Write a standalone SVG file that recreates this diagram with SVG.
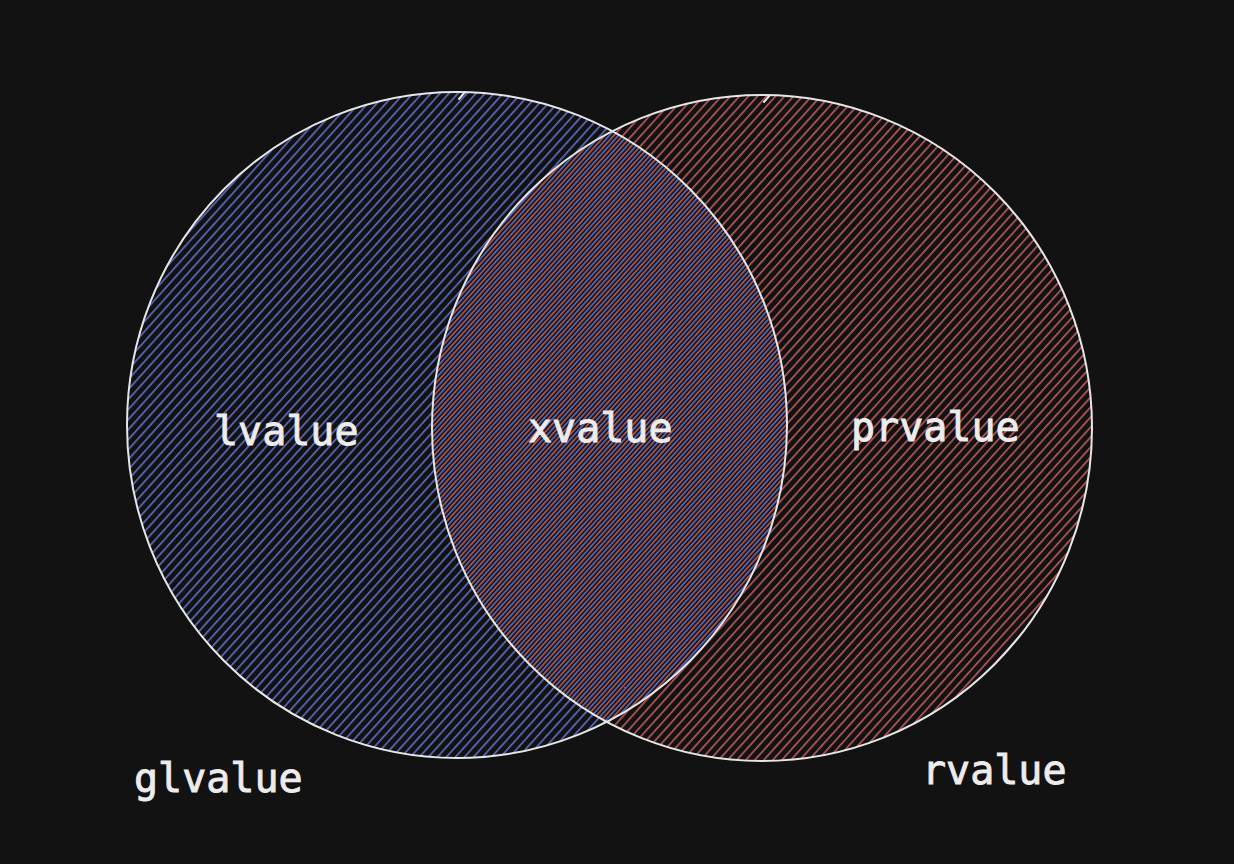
<svg xmlns="http://www.w3.org/2000/svg" width="1234" height="864" viewBox="0 0 1234 864">
<style>
.bg{fill:#121212}
.outline{fill:none;stroke:#e6e6e6;stroke-width:2;stroke-linecap:round}
.lbl{font-family:"DejaVu Sans Mono","Liberation Mono",monospace;font-size:40px;fill:#ececec;stroke:#ececec;stroke-width:0.9}
</style>
<defs>
<pattern id="hBlue" patternUnits="userSpaceOnUse" width="20" height="6.7" patternTransform="rotate(-48)">
<rect x="0" y="0" width="20" height="1.6" fill="#5f6ec4"/>
</pattern>
<pattern id="hRed" patternUnits="userSpaceOnUse" width="20" height="6.7" patternTransform="rotate(-48) translate(0,3.35)">
<rect x="0" y="0" width="20" height="1.6" fill="#b95c5a"/>
</pattern>
</defs>
<rect class="bg" x="0" y="0" width="1234" height="864"/>
<g id="glvalue-set">
<ellipse cx="457" cy="425" rx="330" ry="333" fill="url(#hBlue)"/>
</g>
<g id="rvalue-set">
<ellipse cx="762" cy="428" rx="330" ry="333" fill="url(#hRed)"/>
</g>
<g id="outlines">
<ellipse class="outline" cx="457" cy="425" rx="330" ry="333"/>
<ellipse class="outline" cx="762" cy="428" rx="330" ry="333"/>
<path class="outline" d="M465 92 L459 99" stroke-width="1.5"/>
<path class="outline" d="M770 95 L764 102" stroke-width="1.5"/>
</g>
<g id="labels">
<text class="lbl" x="214" y="445">lvalue</text>
<text class="lbl" x="528" y="442">xvalue</text>
<text class="lbl" x="851" y="441">prvalue</text>
<text class="lbl" x="134" y="792">glvalue</text>
<text class="lbl" x="922" y="784">rvalue</text>
</g>
</svg>
